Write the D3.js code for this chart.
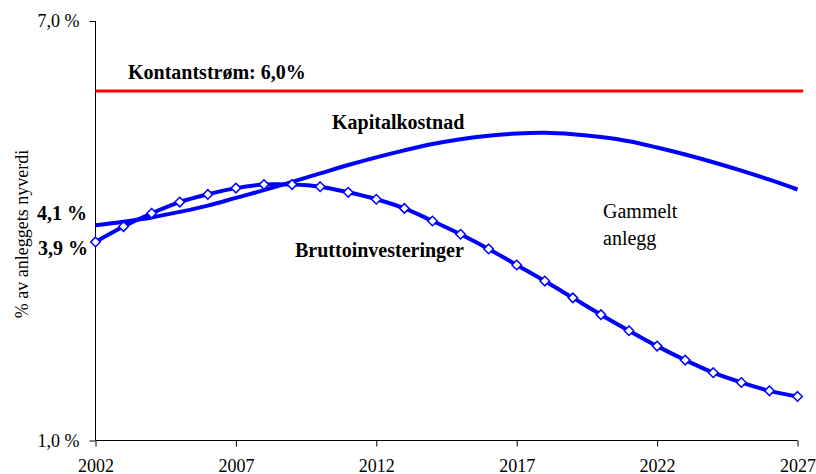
<!DOCTYPE html>
<html>
<head>
<meta charset="utf-8">
<script src="https://cdn.jsdelivr.net/npm/d3@7"></script>
<style>
  body { margin: 0; background: #fff; }
  svg text { font-family: "Liberation Serif", "Times New Roman", serif; fill: #000; }
</style>
</head>
<body>
<svg id="chart"></svg>
<script>
let width = 816,
    height = 474;

// years 2002..2027
let years = d3.range(2002, 2028);

// Bruttoinvesteringer (% av anleggets nyverdi)
let brutto = [3.84, 4.06, 4.25, 4.41, 4.52, 4.61, 4.66, 4.66, 4.63, 4.55,
              4.45, 4.32, 4.14, 3.95, 3.74, 3.51, 3.28, 3.04, 2.80, 2.57,
              2.35, 2.15, 1.97, 1.83, 1.71, 1.63];

// Kapitalkostnad
let kapital = [4.08, 4.13, 4.19, 4.27, 4.36, 4.47, 4.58, 4.70, 4.82, 4.94,
               5.05, 5.15, 5.24, 5.31, 5.36, 5.39, 5.40, 5.38, 5.34, 5.28,
               5.19, 5.09, 4.98, 4.86, 4.73, 4.59];

// Kontantstrøm, flat
let kontantYears = [2002, 2027.2];
let kontant = [6.0, 6.0];

let xTicks = [2002, 2007, 2012, 2017, 2022, 2027];
let yTicks = [1.0, 7.0];

// start-value labels as printed on the chart
let startLabels = ["4,1 %", "3,9 %"];

let svg = d3.select("svg#chart")
    .attr("width", width)
    .attr("height", height);

let x = d3.scaleLinear().domain([2002, 2027]).range([95.5, 797.5]);
let y = d3.scaleLinear().domain([1, 7]).range([440.5, 21]);

let fmt = d => d3.format(".1f")(d).replace(".", ",") + " %";

// y axis
let yAxis = svg.append("g")
    .attr("transform", "translate(95.5,0)")
    .call(d3.axisLeft(y).tickValues(yTicks).tickSize(6).tickPadding(10).tickFormat(fmt));
yAxis.selectAll("text")
    .style("font-size", "18px")
    .style("font-family", "Liberation Serif");
yAxis.selectAll("line, path").attr("stroke", "#000");
yAxis.select(".domain").attr("d", `M0,${y(7)}V${y(1)}`);

// x axis
let xAxis = svg.append("g")
    .attr("transform", "translate(0,440.5)")
    .call(d3.axisBottom(x).tickValues(xTicks).tickSize(6).tickPadding(13).tickFormat(d3.format("d")));
xAxis.selectAll("text")
    .style("font-size", "18px")
    .style("font-family", "Liberation Serif");
xAxis.selectAll("line, path").attr("stroke", "#000");
xAxis.select(".domain").attr("d", `M${x(2002)},0H${x(2027)}`);

// y axis title
svg.append("text")
    .attr("transform", `translate(28, 234) rotate(-90)`)
    .attr("text-anchor", "middle")
    .style("font-size", "18px")
    .text("% av anleggets nyverdi");

// Kontantstrøm
svg.append("path")
    .datum(kontantYears.map((d, i) => [d, kontant[i]]))
    .attr("fill", "none")
    .attr("stroke", "#ff0000")
    .attr("stroke-width", 3)
    .attr("d", d3.line().x(d => x(d[0])).y(d => y(d[1])));

// Kapitalkostnad
svg.append("path")
    .datum(kapital)
    .attr("fill", "none")
    .attr("stroke", "#0000ff")
    .attr("stroke-width", 4)
    .attr("d", d3.line().curve(d3.curveCatmullRom)
        .x((d, i) => x(years[i]))
        .y(d => y(d)));

// Bruttoinvesteringer
svg.append("path")
    .datum(brutto)
    .attr("fill", "none")
    .attr("stroke", "#0000ff")
    .attr("stroke-width", 4)
    .attr("d", d3.line().curve(d3.curveCatmullRom)
        .x((d, i) => x(years[i]))
        .y(d => y(d)));

svg.append("g")
    .selectAll("path")
    .data(brutto)
    .enter()
    .append("path")
    .attr("transform", (d, i) => `translate(${x(years[i])},${y(d)})`)
    .attr("d", d3.symbol(d3.symbolDiamond2, 58))
    .attr("fill", "#fff")
    .attr("stroke", "#0000ff")
    .attr("stroke-width", 1.5);

// labels
let bold = (t, lx, ly, anchor) => svg.append("text")
    .attr("x", lx).attr("y", ly)
    .attr("text-anchor", anchor || "start")
    .style("font-size", "20px")
    .style("font-weight", "bold")
    .text(t);

bold("Kontantstrøm: 6,0%", 128, 79);
bold("Kapitalkostnad", 332, 129);
bold("Bruttoinvesteringer", 295, 257);
bold(startLabels[0], 87, 220, "end");
bold(startLabels[1], 88, 255, "end");

svg.append("text")
    .attr("x", 603).attr("y", 218)
    .style("font-size", "20px")
    .text("Gammelt");
svg.append("text")
    .attr("x", 603).attr("y", 245)
    .style("font-size", "20px")
    .text("anlegg");
</script>
</body>
</html>
